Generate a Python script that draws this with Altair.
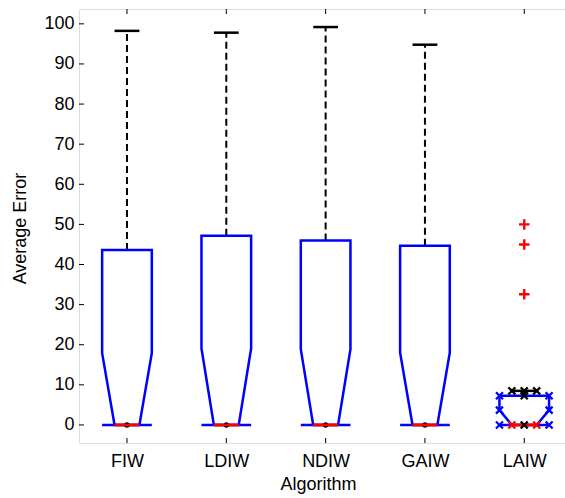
import altair as alt
import pandas as pd

# ---- data ----
algorithms = ["FIW", "LDIW", "NDIW", "GAIW", "LAIW"]
q1 = [0.0, 0.0, 0.0, 0.0, 0.0]
medians = [0.0, 0.0, 0.0, 0.0, 0.0]
q3 = [43.6, 47.2, 46.0, 44.7, 7.3]
notch_upper = [17.9, 19.1, 18.9, 18.0, 3.7]
whisker_low = [0.0, 0.0, 0.0, 0.0, 0.0]
whisker_high = [98.25, 97.8, 99.2, 94.8, 8.5]
marker_style = ["dot", "dot", "dot", "dot", "x"]
outlier_algorithm = ["LAIW", "LAIW", "LAIW"]
outlier_values = [32.6, 45.0, 50.0]
y_tick_values = [0, 10, 20, 30, 40, 50, 60, 70, 80, 90, 100]

BOX_HALF = 0.25
NOTCH_HALF = 0.125
BLUE = "#0000FF"
RED = "#FF0000"
FONT = "Liberation Sans"
FS = 18

W, H = 486, 434
xscale = alt.Scale(domain=[0.517, 5.41], nice=False, zero=False)
yscale = alt.Scale(domain=[-4.5, 103.7], nice=False, zero=False)

label_expr = "[" + ",".join("'%s'" % a for a in algorithms) + "][datum.value - 1]"
xaxis = alt.Axis(values=list(range(1, len(algorithms) + 1)), labelExpr=label_expr,
                 title="Algorithm", tickSize=0, grid=False, domain=False,
                 labelFont=FONT, labelFontSize=FS, labelColor="black",
                 labelBaseline="alphabetic", labelPadding=23,
                 titleFont=FONT, titleFontSize=FS, titleFontWeight="normal", titleColor="black",
                 titleX=239, titleY=46.5, titleBaseline="alphabetic", titleAnchor="start",
                 titleAlign="center", labelFlush=False, labelOverlap=False)
yaxis = alt.Axis(values=y_tick_values, title="Average Error", tickSize=0, grid=False, domain=False,
                 labelFont=FONT, labelFontSize=FS, labelColor="black", labelPadding=5,
                 titleFont=FONT, titleFontSize=FS, titleFontWeight="normal", titleColor="black",
                 titleX=-54, titleY=219, titleBaseline="alphabetic", titleAngle=270,
                 titleAlign="center", labelOverlap=False)


def X(field="x"):
    return alt.X(field, type="quantitative", scale=xscale, axis=xaxis)


def Y(field="y"):
    return alt.Y(field, type="quantitative", scale=yscale, axis=yaxis)


# ---- build tables ----
path_rows, whisk_rows, cap_rows, med_rows, dot_rows, xm_rows = [], [], [], [], [], []
for i, alg in enumerate(algorithms):
    p = i + 1
    pts = [(p - BOX_HALF, q1[i]), (p - NOTCH_HALF, medians[i]), (p - BOX_HALF, notch_upper[i]),
           (p - BOX_HALF, q3[i]), (p + BOX_HALF, q3[i]), (p + BOX_HALF, notch_upper[i]),
           (p + NOTCH_HALF, medians[i]), (p + BOX_HALF, q1[i]), (p - BOX_HALF, q1[i])]
    for k, (px, py) in enumerate(pts):
        path_rows.append({"alg": alg, "order": k, "x": px, "y": py})
    whisk_rows.append({"alg": alg, "x": p, "y": q3[i], "y2": whisker_high[i]})
    whisk_rows.append({"alg": alg, "x": p, "y": whisker_low[i], "y2": q1[i]})
    cap_rows.append({"alg": alg, "x": p - NOTCH_HALF, "x2": p + NOTCH_HALF, "y": whisker_high[i]})
    cap_rows.append({"alg": alg, "x": p - NOTCH_HALF, "x2": p + NOTCH_HALF, "y": whisker_low[i]})
    med_rows.append({"alg": alg, "x": p - NOTCH_HALF, "x2": p + NOTCH_HALF, "y": medians[i]})
    if marker_style[i] == "dot":
        dot_rows.append({"alg": alg, "x": p, "y": whisker_low[i]})
    else:
        for px, py in [(p - BOX_HALF, q1[i]), (p + BOX_HALF, q1[i]),
                       (p - BOX_HALF, notch_upper[i]), (p + BOX_HALF, notch_upper[i]),
                       (p - BOX_HALF, q3[i]), (p + BOX_HALF, q3[i])]:
            xm_rows.append({"x": px, "y": py, "c": "blue"})
        for px, py in [(p - NOTCH_HALF, whisker_high[i]), (p, whisker_high[i]),
                       (p + NOTCH_HALF, whisker_high[i]), (p, q3[i]), (p, whisker_low[i])]:
            xm_rows.append({"x": px, "y": py, "c": "black"})
        for px, py in [(p - NOTCH_HALF, medians[i]), (p + NOTCH_HALF, medians[i])]:
            xm_rows.append({"x": px, "y": py, "c": "red"})

pos_of = {a: k + 1 for k, a in enumerate(algorithms)}
out_df = pd.DataFrame({"x": [pos_of[a] for a in outlier_algorithm], "y": outlier_values})
path_df = pd.DataFrame(path_rows)
whisk_df = pd.DataFrame(whisk_rows)
cap_df = pd.DataFrame(cap_rows)
med_df = pd.DataFrame(med_rows)
dot_df = pd.DataFrame(dot_rows)
xm_df = pd.DataFrame(xm_rows)
ytick_df = pd.DataFrame({"y": y_tick_values})
xtick_df = pd.DataFrame({"x": list(range(1, len(algorithms) + 1))})

XSHAPE = "M-1,-1L1,1M1,-1L-1,1"
PLUS = "M-1,0L1,0M0,-1L0,1"

whiskers = alt.Chart(whisk_df).mark_rule(color="black", strokeWidth=2, strokeDash=[7, 4]).encode(
    x=X(), y=Y(), y2="y2")
caps = alt.Chart(cap_df).mark_rule(color="black", strokeWidth=2.5).encode(x=X(), x2="x2", y=Y())
boxes = alt.Chart(path_df).mark_line(color=BLUE, strokeWidth=2.5, strokeJoin="miter").encode(
    x=X(), y=Y(), order="order:Q", detail="alg:N")
dots = alt.Chart(dot_df).mark_point(filled=True, color="black", size=30, opacity=1).encode(x=X(), y=Y())
meds = alt.Chart(med_df).mark_rule(color=RED, strokeWidth=2.7).encode(x=X(), x2="x2", y=Y())
xmarks = alt.Chart(xm_df).mark_point(shape=XSHAPE, filled=False, size=49, strokeWidth=2.2, opacity=1).encode(
    x=X(), y=Y(),
    color=alt.Color("c:N", scale=alt.Scale(domain=["blue", "black", "red"], range=[BLUE, "black", RED]),
                    legend=None),
    order=alt.Order("c:N"))
outliers = alt.Chart(out_df).mark_point(shape=PLUS, filled=False, size=110, strokeWidth=2.4,
                                         color=RED, opacity=1).encode(x=X(), y=Y())
yticks = alt.Chart(ytick_df).mark_rule(color="black", strokeWidth=1).encode(
    y=Y(), x=alt.value(0), x2=alt.value(5))
xticks_b = alt.Chart(xtick_df).mark_rule(color="black", strokeWidth=1).encode(
    x=X(), y=alt.value(H), y2=alt.value(H - 5))
xticks_t = alt.Chart(xtick_df).mark_rule(color="black", strokeWidth=1).encode(
    x=X(), y=alt.value(0), y2=alt.value(5))

chart = alt.layer(whiskers, caps, boxes, dots, meds, xmarks, outliers, yticks, xticks_b, xticks_t).properties(
    width=W, height=H,
    autosize=alt.AutoSizeParams(type="none"),
    padding={"left": 79, "top": 9, "right": 0, "bottom": 55},
).configure_view(stroke="black", strokeWidth=1).configure(background="white")

chart.save("out.html", embed_options={"renderer": "svg", "actions": False})
